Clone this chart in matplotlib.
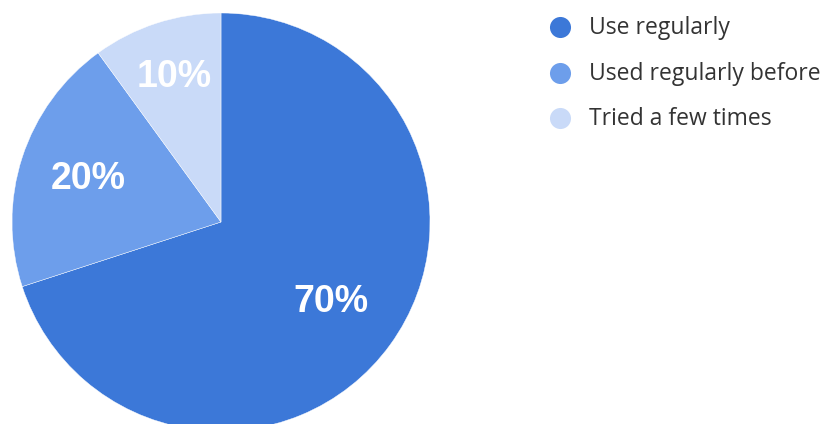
import numpy as np
import matplotlib
matplotlib.use("Agg")
import matplotlib.pyplot as plt

labels = ["Use regularly", "Used regularly before", "Tried a few times"]
shares = [70, 20, 10]
colors = ["#3c78d8", "#6d9eeb", "#c9daf8"]
label_radius = [0.65, 0.67, 0.73]  # radial position of the percent text, per slice

W, H = 825, 424
fig = plt.figure(figsize=(W / 100, H / 100), dpi=100)

# pie axes, placed in pixels: centre (221, 222 from top), radius 209
cx, cy, r = 221, 222, 209
ax = fig.add_axes([(cx - r) / W, (H - cy - r) / H, 2 * r / W, 2 * r / H])
wedges, _ = ax.pie(shares, colors=colors, startangle=90, counterclock=False,
                   radius=1, wedgeprops=dict(edgecolor="white", linewidth=0.3))
ax.set_xlim(-1, 1)
ax.set_ylim(-1, 1)
ax.axis("off")

for w, v, d in zip(wedges, shares, label_radius):
    ang = np.deg2rad((w.theta1 + w.theta2) / 2)
    ax.text(d * np.cos(ang), d * np.sin(ang), "%d%%" % v, color="white",
            fontsize=27, fontweight="bold", family="Liberation Sans",
            ha="center", va="center")

# legend drawn on a pixel overlay
lg = fig.add_axes([0, 0, 1, 1])
lg.set_xlim(0, W)
lg.set_ylim(H, 0)
lg.axis("off")
for i, (lab, c) in enumerate(zip(labels, colors)):
    y = 27 + 45.5 * i
    lg.scatter([560], [y], s=230, color=c, linewidths=0)
    lg.text(589, y + 1, lab, fontsize=16.5, family="Open Sans", color="#333333",
            ha="left", va="center")

fig.savefig("out.png", dpi=100)
